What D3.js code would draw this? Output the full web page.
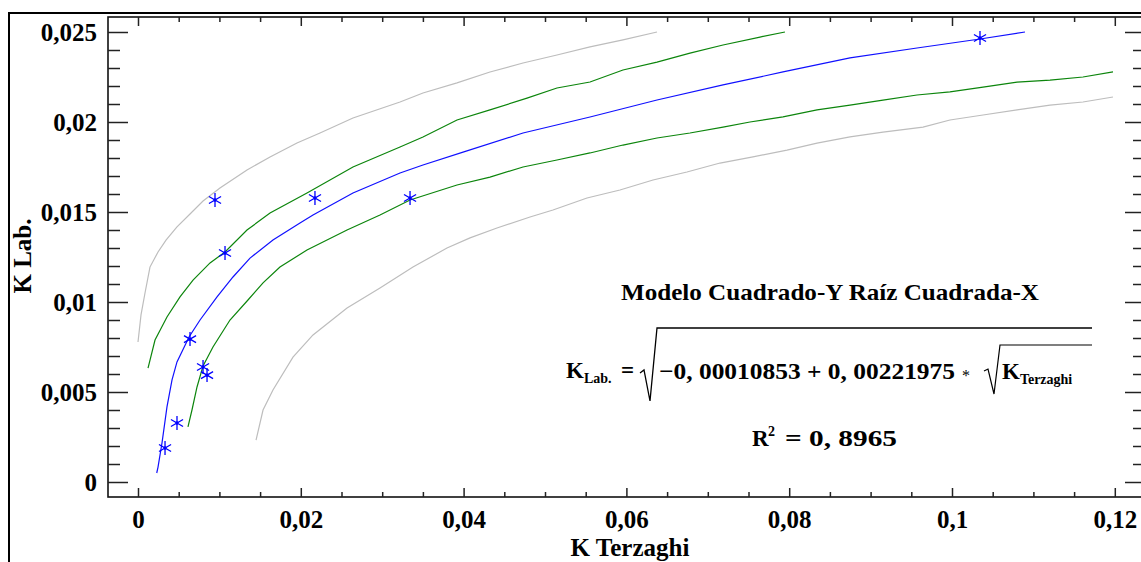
<!DOCTYPE html>
<html><head><meta charset="utf-8">
<script src="https://cdn.jsdelivr.net/npm/d3@7"></script>
<style>
body{margin:0;background:#fff}
svg{display:block}
text{font-family:"Liberation Serif","Times New Roman",serif;font-weight:bold;fill:#000}
</style>
</head><body>
<svg id="c" width="1141" height="562"></svg>
<script>
// ---------- tick labels ----------
const xTickValues = [0, 0.02, 0.04, 0.06, 0.08, 0.1, 0.12];
const xTickLabels = ["0", "0,02", "0,04", "0,06", "0,08", "0,1", "0,12"];
const yTickValues = [0, 0.005, 0.01, 0.015, 0.02, 0.025];
const yTickLabels = ["0", "0,005", "0,01", "0,015", "0,02", "0,025"];

// ---------- observed points ----------
const obsKTerzaghi = [0.00332, 0.00479, 0.00639, 0.00799, 0.00848, 0.01069, 0.00946, 0.02174, 0.03342, 0.10344];
const obsKLab      = [0.00189, 0.00328, 0.00794, 0.00639, 0.00594, 0.01272, 0.01567, 0.01578, 0.01578, 0.02467];

// ---------- fitted model (blue) ----------
const fitX = [0.0023, 0.00246, 0.00295, 0.00356, 0.00418, 0.00479, 0.00627, 0.00762, 0.00971, 0.01167, 0.01376, 0.01658, 0.0199, 0.0215, 0.02641, 0.03219, 0.03501, 0.03993, 0.0473, 0.05553, 0.06376, 0.07187, 0.07924, 0.08747, 0.0957, 0.10344, 0.10897];
const fitY = [0.0005, 0.00083, 0.00217, 0.00417, 0.00567, 0.00667, 0.00806, 0.009, 0.01028, 0.01139, 0.01244, 0.01344, 0.01439, 0.01483, 0.01606, 0.01717, 0.01761, 0.01833, 0.01939, 0.02028, 0.02122, 0.02206, 0.02278, 0.02356, 0.02411, 0.02461, 0.025];

// ---------- confidence limits (green) ----------
const confUpX = [0.00123, 0.00209, 0.00356, 0.00516, 0.00676, 0.00885, 0.01069, 0.01339, 0.01622, 0.02076, 0.02641, 0.03219, 0.03501, 0.03919, 0.04324, 0.04779, 0.05147, 0.05553, 0.05958, 0.06376, 0.06781, 0.07187, 0.07641, 0.07948];
const confUpY = [0.00633, 0.00789, 0.00917, 0.01028, 0.01122, 0.01217, 0.01278, 0.014, 0.01494, 0.01606, 0.0175, 0.01861, 0.01917, 0.02011, 0.02067, 0.02133, 0.02189, 0.02222, 0.02289, 0.02333, 0.02383, 0.02428, 0.02472, 0.025];
const confLoX = [0.00614, 0.00663, 0.00725, 0.00799, 0.00921, 0.0113, 0.01351, 0.01536, 0.01744, 0.02076, 0.02568, 0.02973, 0.03342, 0.03919, 0.04324, 0.0473, 0.05147, 0.05553, 0.05958, 0.06376, 0.06781, 0.07187, 0.07518, 0.07924, 0.08342, 0.08747, 0.09152, 0.0957, 0.09975, 0.10381, 0.10799, 0.11204, 0.11609, 0.11978];
const confLoY = [0.00306, 0.004, 0.00528, 0.00644, 0.0075, 0.009, 0.01011, 0.01106, 0.01194, 0.01289, 0.014, 0.01483, 0.01567, 0.0165, 0.01694, 0.0175, 0.01789, 0.01828, 0.01872, 0.01911, 0.01939, 0.01972, 0.02, 0.02028, 0.02067, 0.02094, 0.02122, 0.0215, 0.02167, 0.02194, 0.02222, 0.02233, 0.0225, 0.02278];

// ---------- prediction limits (gray) ----------
const predUpX = [0, 0.00037, 0.00086, 0.00147, 0.00246, 0.00344, 0.00479, 0.00639, 0.00799, 0.01007, 0.01339, 0.01622, 0.01953, 0.02236, 0.02641, 0.03219, 0.03501, 0.03919, 0.04324, 0.0473, 0.05147, 0.05553, 0.05958, 0.06376];
const predUpY = [0.00778, 0.00928, 0.0105, 0.01194, 0.01278, 0.01344, 0.01417, 0.01489, 0.01561, 0.01633, 0.01733, 0.01806, 0.01883, 0.01939, 0.02022, 0.02111, 0.02161, 0.02217, 0.02278, 0.02328, 0.02372, 0.02417, 0.02456, 0.025];
const predLoX = [0.0145, 0.01536, 0.01658, 0.01904, 0.0215, 0.02568, 0.02973, 0.03378, 0.03796, 0.04079, 0.0441, 0.04816, 0.05098, 0.05516, 0.05921, 0.06327, 0.06744, 0.0715, 0.07555, 0.07973, 0.08342, 0.08747, 0.09152, 0.09644, 0.09975, 0.10381, 0.10799, 0.11204, 0.11609, 0.11978];
const predLoY = [0.00233, 0.004, 0.00511, 0.00694, 0.00817, 0.00967, 0.01078, 0.01194, 0.013, 0.01356, 0.01411, 0.01472, 0.01511, 0.01578, 0.01622, 0.01678, 0.01722, 0.01772, 0.01806, 0.01844, 0.01883, 0.01917, 0.01944, 0.01972, 0.02011, 0.02039, 0.02067, 0.02094, 0.02111, 0.02139];

// ---------- texts ----------
const xTitle = "K Terzaghi";
const yTitle = "K Lab.";
const modelTitle = "Modelo Cuadrado-Y Raíz Cuadrada-X";
const formulaBody = "\u22120, 00010853 + 0, 00221975";
const r2Text = "= 0, 8965";

// ---------- layout ----------
const svg = d3.select("#c");
const plot = {left: 108, top: 17, right: 1145, bottom: 497};
const x = d3.scaleLinear().domain([0, 0.12]).range([138, 1114.8]);
const y = d3.scaleLinear().domain([0, 0.025]).range([482, 32]);

// outer frame
svg.append("rect").attr("x", 9).attr("y", 13).attr("width", 1200).attr("height", 600)
  .attr("fill", "none").attr("stroke", "#000").attr("stroke-width", 2);
// plot frame
svg.append("rect").attr("x", plot.left).attr("y", plot.top)
  .attr("width", plot.right - plot.left).attr("height", plot.bottom - plot.top)
  .attr("fill", "none").attr("stroke", "#111").attr("stroke-width", 1.6);

const xMinor = d3.range(0, 0.1201, 0.005).filter(v => Math.abs(v / 0.02 - Math.round(v / 0.02)) > 1e-6);
const yMinor = d3.range(0, 0.02501, 0.001).filter(v => Math.abs(v / 0.005 - Math.round(v / 0.005)) > 1e-6);

function styleAxis(g, fs) {
  g.select(".domain").remove();
  g.selectAll(".tick line").attr("stroke", "#222").attr("stroke-width", 1.5);
  g.selectAll(".tick text").style("font-family", '"Liberation Serif","Times New Roman",serif')
    .style("font-weight", "bold").style("font-size", fs + "px").attr("fill", "#000");
}

// bottom
svg.append("g").attr("transform", `translate(0,${plot.bottom})`)
  .call(d3.axisBottom(x).tickValues(xTickValues).tickFormat((d, i) => xTickLabels[i])
    .tickSizeInner(-9).tickSizeOuter(0).tickPadding(13)).call(g => styleAxis(g, 25));
svg.append("g").attr("transform", `translate(0,${plot.bottom})`)
  .call(d3.axisBottom(x).tickValues(xMinor).tickFormat("").tickSizeInner(-5).tickSizeOuter(0)).call(g => styleAxis(g, 10));
// top
svg.append("g").attr("transform", `translate(0,${plot.top})`)
  .call(d3.axisTop(x).tickValues(xTickValues).tickFormat("").tickSizeInner(-9).tickSizeOuter(0)).call(g => styleAxis(g, 10));
svg.append("g").attr("transform", `translate(0,${plot.top})`)
  .call(d3.axisTop(x).tickValues(xMinor).tickFormat("").tickSizeInner(-5).tickSizeOuter(0)).call(g => styleAxis(g, 10));
// left
svg.append("g").attr("transform", `translate(${plot.left},0)`)
  .call(d3.axisLeft(y).tickValues(yTickValues).tickFormat((d, i) => yTickLabels[i])
    .tickSizeInner(-20).tickSizeOuter(0).tickPadding(11)).call(g => styleAxis(g, 25));
svg.append("g").attr("transform", `translate(${plot.left},0)`)
  .call(d3.axisLeft(y).tickValues(yMinor).tickFormat("").tickSizeInner(-12).tickSizeOuter(0)).call(g => styleAxis(g, 10));
// right
svg.append("g").attr("transform", `translate(${plot.right},0)`)
  .call(d3.axisRight(y).tickValues(yTickValues).tickFormat("").tickSizeInner(-20).tickSizeOuter(0)).call(g => styleAxis(g, 10));
svg.append("g").attr("transform", `translate(${plot.right},0)`)
  .call(d3.axisRight(y).tickValues(yMinor).tickFormat("").tickSizeInner(-12).tickSizeOuter(0)).call(g => styleAxis(g, 10));

// axis titles
svg.append("text").attr("x", 630).attr("y", 556).attr("text-anchor", "middle")
  .style("font-size", "25px").text(xTitle);
svg.append("text").attr("transform", "translate(31,256) rotate(-90)").attr("text-anchor", "middle")
  .style("font-size", "25px").text(yTitle);

// curves
const line = d3.line().x(d => x(d[0])).y(d => y(d[1]));
const zipXY = (a, b) => a.map((v, i) => [v, b[i]]);
const series = [
  {xs: predUpX, ys: predUpY, color: "#bdbdbd"},
  {xs: predLoX, ys: predLoY, color: "#bdbdbd"},
  {xs: confUpX, ys: confUpY, color: "#0c850c"},
  {xs: confLoX, ys: confLoY, color: "#0c850c"},
  {xs: fitX, ys: fitY, color: "#1010ff"}
];
svg.append("g").selectAll("path").data(series).join("path")
  .attr("d", s => line(zipXY(s.xs, s.ys)))
  .attr("fill", "none").attr("stroke", s => s.color).attr("stroke-width", 1.2);

// asterisk markers
const r = 7, a = Math.PI / 6;
const starPath = `M0,${-r}L0,${r}M${-r*Math.cos(a)},${-r*Math.sin(a)}L${r*Math.cos(a)},${r*Math.sin(a)}M${-r*Math.cos(a)},${r*Math.sin(a)}L${r*Math.cos(a)},${-r*Math.sin(a)}`;
const stars = svg.append("g").selectAll("g").data(zipXY(obsKTerzaghi, obsKLab)).join("g")
  .attr("transform", d => `translate(${x(d[0])},${y(d[1])})`);
stars.append("path").attr("d", starPath).attr("stroke", "#0000ff").attr("stroke-width", 1.3).attr("fill", "none");
stars.append("circle").attr("r", 1.7).attr("fill", "#0000ff");

// annotation block
svg.append("text").attr("x", 830).attr("y", 300).attr("text-anchor", "middle")
  .attr("textLength", 418).attr("lengthAdjust", "spacingAndGlyphs")
  .style("font-size", "24px").text(modelTitle);

const fg = svg.append("g").style("font-size", "23px");
const kl = fg.append("text").attr("x", 566).attr("y", 378);
kl.append("tspan").text("K");
kl.append("tspan").attr("dy", 5).style("font-size", "14px").text("Lab.");
fg.append("text").attr("x", 621).attr("y", 378).text("=");
fg.append("path").attr("d", "M640,373 L644,370 L650,401 L657,328 L1092,328")
  .attr("fill", "none").attr("stroke", "#000").attr("stroke-width", 1.3);
fg.append("text").attr("x", 659).attr("y", 379).attr("textLength", 296).attr("lengthAdjust", "spacingAndGlyphs").text(formulaBody);
fg.append("text").attr("x", 962).attr("y", 381).style("font-size", "16px").style("font-weight", "normal").text("*");
fg.append("path").attr("d", "M984,371 L988,369 L994,394 L1000,345 L1092,345")
  .attr("fill", "none").attr("stroke", "#000").attr("stroke-width", 1.2);
const kt = fg.append("text").attr("x", 1002).attr("y", 379);
kt.append("tspan").text("K");
kt.append("tspan").attr("dy", 5).style("font-size", "14px").text("Terzaghi");

const rg = svg.append("g").style("font-size", "23px");
rg.append("text").attr("x", 752).attr("y", 446).text("R");
rg.append("text").attr("x", 768).attr("y", 436).style("font-size", "14px").text("2");
rg.append("text").attr("x", 785).attr("y", 446).attr("textLength", 112).attr("lengthAdjust", "spacingAndGlyphs").text(r2Text);
</script>
</body></html>
